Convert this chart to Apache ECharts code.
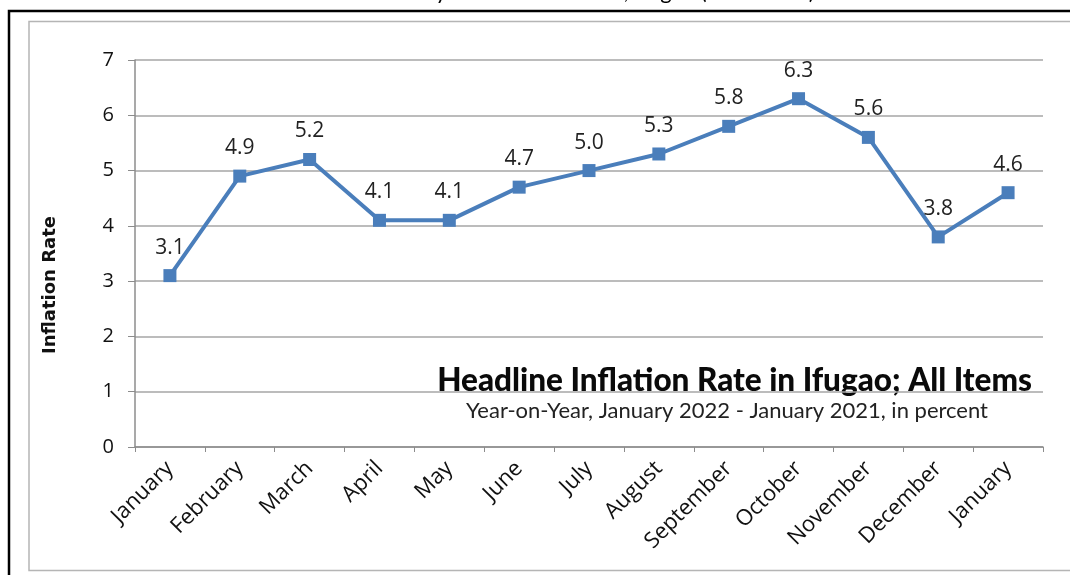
<!DOCTYPE html>
<html>
<head>
<meta charset="utf-8">
<script src="https://cdn.jsdelivr.net/npm/echarts@6/dist/echarts.min.js"></script>
<style>
  html, body { margin: 0; padding: 0; background: #fff; }
  #main { width: 1070px; height: 575px; }
</style>
</head>
<body>
<div id="main"></div>
<script>
// months, January 2021 .. January 2022
var months = ['January', 'February', 'March', 'April', 'May', 'June', 'July',
              'August', 'September', 'October', 'November', 'December', 'January'];
var inflation = [3.1, 4.9, 5.2, 4.1, 4.1, 4.7, 5.0, 5.3, 5.8, 6.3, 5.6, 3.8, 4.6];
var yTicks = [0, 1, 2, 3, 4, 5, 6, 7];

var dom = document.getElementById('main');
var myChart = echarts.init(dom);

var option = {
    backgroundColor: '#fff',
    animation: false,
    graphic: [
        // outer black frame
        { type: 'polyline', shape: { points: [[9, 575], [9, 11], [1070, 11]] },
          style: { stroke: '#000', lineWidth: 2.5, fill: null } },
        // inner grey frame
        { type: 'rect', shape: { x: 29, y: 21.5, width: 1045, height: 549 },
          style: { stroke: '#b5b5b5', lineWidth: 1.5, fill: null } },
        // clipped text above the frame
        { type: 'text', x: 590, y: -8,
          style: { text: 'Monthly Headline Inflation, Ifugao (2018=100)', fontFamily: 'Lato',
                   fontSize: 22, fill: '#000', align: 'center', verticalAlign: 'middle' } },
        // y axis name
        { type: 'text', x: 50, y: 285, rotation: Math.PI / 2,
          style: { text: 'Inflation Rate', fontFamily: 'DejaVu Sans', fontWeight: 'bold',
                   fontSize: 18, fill: '#111', align: 'center', verticalAlign: 'middle' } },
        // chart title in plot area
        { type: 'text', x: 1032, y: 381,
          style: { text: 'Headline Inflation Rate in Ifugao; All Items', fontFamily: 'Lato',
                   fontWeight: 900, fontSize: 31.5, fill: '#0a0a0a', align: 'right', verticalAlign: 'middle' } },
        { type: 'text', x: 727, y: 411,
          style: { text: 'Year-on-Year, January 2022 - January 2021, in percent', fontFamily: 'Lato',
                   fontSize: 22, fill: '#222', align: 'center', verticalAlign: 'middle' } }
    ],
    grid: { left: 135, right: 27, top: 60, bottom: 128 },
    xAxis: {
        type: 'category',
        data: months,
        boundaryGap: true,
        axisLine: { lineStyle: { color: '#8c8c8c', width: 1.5 } },
        axisTick: { show: true, length: 5, alignWithLabel: false, lineStyle: { color: '#8c8c8c' } },
        axisLabel: { rotate: 45, interval: 0, fontFamily: 'Open Sans', fontSize: 22, color: '#111', margin: 18 }
    },
    yAxis: {
        type: 'value',
        min: yTicks[0],
        max: yTicks[yTicks.length - 1],
        interval: 1,
        axisLine: { show: true, lineStyle: { color: '#8c8c8c', width: 1.5 } },
        axisTick: { show: true, length: 7, lineStyle: { color: '#8c8c8c' } },
        axisLabel: { fontFamily: 'Open Sans', fontSize: 20, color: '#111', margin: 21 },
        splitLine: { lineStyle: { color: '#a6a6a6', width: 1.5 } }
    },
    series: [{
        type: 'line',
        data: inflation,
        symbol: 'rect',
        symbolSize: 13,
        lineStyle: { color: '#4a7ebb', width: 4 },
        itemStyle: { color: '#4a7ebb' },
        label: {
            show: true,
            position: 'top',
            distance: 11,
            fontFamily: 'Open Sans',
            fontSize: 21,
            color: '#222',
            formatter: function (p) { return p.value.toFixed(1); }
        }
    }]
};

if (option && typeof option === 'object') {
    myChart.setOption(option);
}
</script>
</body>
</html>
